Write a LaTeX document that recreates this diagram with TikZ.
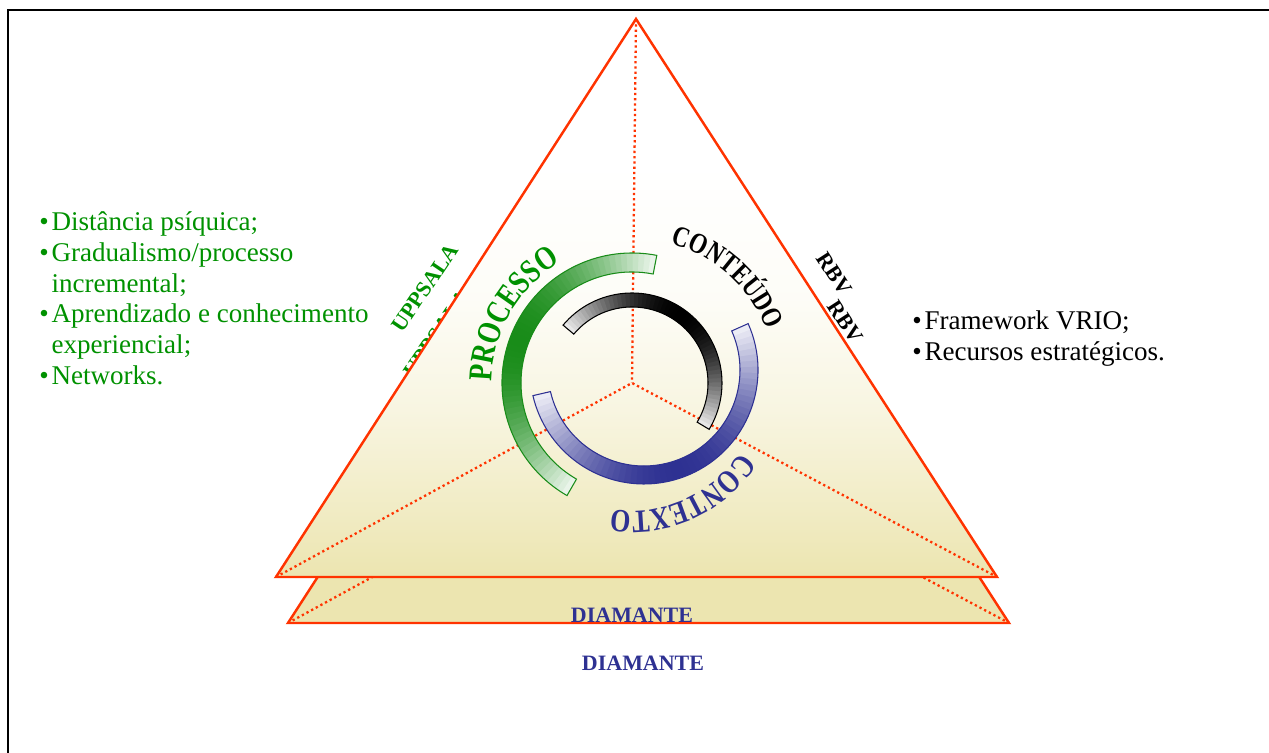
\documentclass[tikz,border=0pt]{standalone}
\usepackage{fontspec}
\setmainfont{Liberation Serif}
\newfontfamily\arcfont[FakeStretch=0.8]{Liberation Serif}
\usetikzlibrary{decorations.text}
\definecolor{edgered}{RGB}{255,51,0}
\definecolor{khaki}{RGB}{236,229,176}
\definecolor{procgreen}{RGB}{0,145,0}
\definecolor{arcgreen}{RGB}{25,140,25}
\definecolor{ctxblue}{RGB}{46,49,146}
\pgfdeclareverticalshading{trifill}{100bp}{color(0bp)=(khaki); color(25bp)=(khaki); color(32bp)=(white!30!khaki); color(40bp)=(white!62!khaki); color(50bp)=(white!90!khaki); color(62bp)=(white); color(100bp)=(white)}
% ring piece, light at both ends and dark in the middle
\newcommand\shadedring[7]{%
  \pgfmathsetmacro\ringmid{((#4)+(#5))/2}%
  \pgfmathsetmacro\ringlow{cos(((#5)-(#4))/2)}%
  \foreach \k in {0,...,59}{%
    \pgfmathsetmacro\ringa{(#4)+((#5)-(#4))*\k/60}%
    \pgfmathsetmacro\ringb{min(#5,(#4)+((#5)-(#4))*(\k+1.3)/60)}%
    \pgfmathsetmacro\ringp{max(0,min(100,7+93*(cos((#4)+((#5)-(#4))*(\k+0.5)/60-\ringmid)-\ringlow)/(1-\ringlow)))}%
    \fill[#6!\ringp!white,shift={(#1)}] (\ringa:#2) arc[start angle=\ringa,end angle=\ringb,radius=#2] -- (\ringb:#3) arc[start angle=\ringb,end angle=\ringa,radius=#3] -- cycle;
  }%
  \draw[#7,line width=0.6pt,shift={(#1)}] (#4:#2) arc[start angle=#4,end angle=#5,radius=#2] -- (#5:#3) arc[start angle=#5,end angle=#4,radius=#3] -- cycle;
}
\begin{document}
\begin{tikzpicture}[x=0.02cm,y=0.02cm,
  redge/.style={draw=edgered,line width=1.4pt,line join=miter},
  reddots/.style={draw=edgered,line width=1.3pt,dash pattern=on 1.3pt off 1.7pt},
  bullets/.style={anchor=north west,align=left,inner sep=0pt,font=\fontsize{15.4}{17.6}\selectfont},
  tag/.style={inner sep=0pt,font=\bfseries\fontsize{12.5}{12.5}\selectfont}]
\useasboundingbox (0,0) rectangle (1269,753);
\draw[line width=1.2pt] (8,0) -- (8,743) -- (1269,743);

\coordinate (apexB) at (648,688);
\coordinate (leftB) at (288,130);
\coordinate (rightB) at (1009,130);
\coordinate (cenB) at (644,324);
\coordinate (apex) at (636,734);
\coordinate (left) at (276,176);
\coordinate (right) at (997,176);
\coordinate (cen) at (632,370);
\coordinate (ctr) at (644,383);

% layer behind
\filldraw[redge,fill=khaki] (apexB) -- (leftB) -- (rightB) -- cycle;
\draw[reddots] (leftB) -- (cenB) -- (rightB);
\node[tag,text=procgreen,rotate=56] (uppsalaB) at (437,419) {UPPSALA};
\node[tag,rotate=-57] (rbvB) at (845,431) {RBV};
\node[tag,text=ctxblue] (diamanteB) at (643,90) {DIAMANTE};

% front layer
\shade[shading=trifill] (apex) -- (left) -- (right) -- cycle;
\draw[redge] (apex) -- (left) -- (right) -- cycle;
\draw[reddots] (apex) -- (cen);
\draw[reddots] (left) -- (cen) -- (right);

\shadedring{cen}{111}{130}{79}{240}{arcgreen}{arcgreen}
\shadedring{cen}{76}{90}{-31}{140}{black}{black}
\shadedring{ctr}{96}{114}{-167}{24}{ctxblue}{ctxblue}

\path[shift={(cen)},decorate,decoration={text along path,text align=center,
  text={|\arcfont\bfseries\fontsize{19}{19}\selectfont\color{procgreen}|PROCESSO}}]
  (195:140) arc[start angle=195,end angle=105,radius=140];
\path[shift={(cen)},decorate,decoration={text along path,text align=center,
  text={|\arcfont\bfseries\fontsize{16.5}{16.5}\selectfont|CONTEÚDO}}]
  (95:145) arc[start angle=95,end angle=1,radius=145];
\path[shift={(cen)},decorate,decoration={text along path,text align=center,
  text={|\arcfont\bfseries\fontsize{18.5}{18.5}\selectfont\color{ctxblue}|CONTEXTO}}]
  (-20:128) arc[start angle=-20,end angle=-112,radius=128];

\node[tag,text=procgreen,rotate=56] (uppsala) at (425,465) {UPPSALA};
\node[tag,rotate=-57] (rbv) at (834,479) {RBV};
\node[tag,text=ctxblue] (diamante) at (632,138) {DIAMANTE};

\node[bullets,text=procgreen] (uppsalalist) at (39,542) {•\kern.1em Distância psíquica;\\
•\kern.1em Gradualismo/processo\\
\hphantom{•}\kern.1em incremental;\\
•\kern.1em Aprendizado e conhecimento\\
\hphantom{•}\kern.1em experiencial;\\
•\kern.1em Networks.};
\node[bullets] (rbvlist) at (912,443) {•\kern.1em Framework VRIO;\\
•\kern.1em Recursos estratégicos.};
\end{tikzpicture}
\end{document}
